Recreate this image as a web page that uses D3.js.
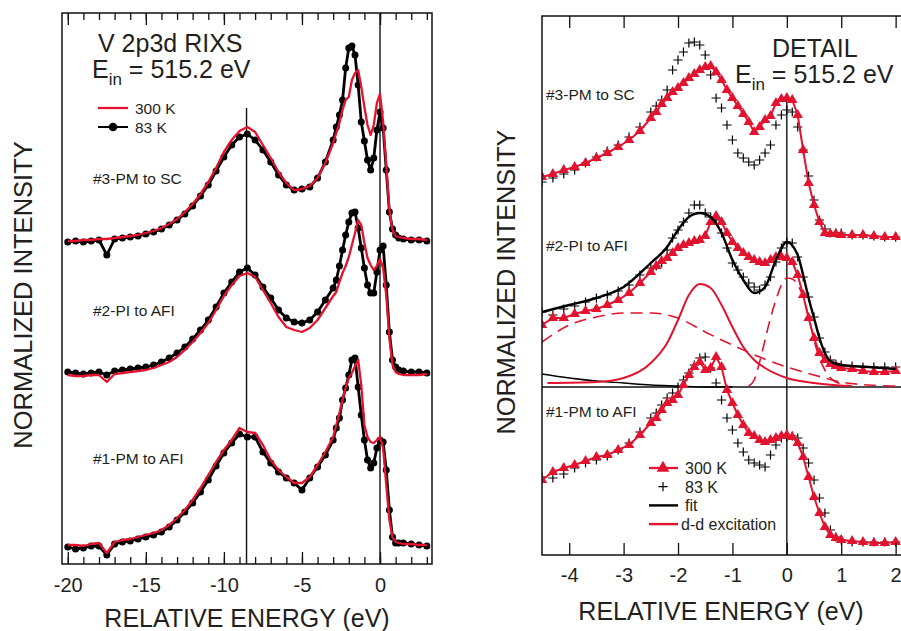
<!DOCTYPE html>
<html><head><meta charset="utf-8">
<script src="https://cdn.jsdelivr.net/npm/d3@7"></script>
<style>
body{margin:0;background:#fff;}
svg{display:block;}
text{font-family:"Liberation Sans",Arial,Helvetica,sans-serif;fill:#231f20;}
</style>
</head><body>
<svg id="c" width="901" height="631"></svg>
<script>
// ---------------- LEFT PANEL DATA (V 2p3d RIXS, wide range) ----------------
const energyL = [-20,-19.5,-19,-18.5,-18,-17.5,-17,-16.5,-16,-15.5,-15,-14.5,-14,-13.5,-13,-12.5,-12,-11.5,-11,-10.5,-10,-9.5,-9,-8.5,-8,-7.5,-7,-6.5,-6,-5.5,-5,-4.5,-4,-3.5,-3,
  -2.8,-2.6,-2.4,-2.2,-2,-1.8,-1.6,-1.4,-1.2,-1,-0.8,-0.6,-0.4,-0.2,0,0.2,0.4,0.6,0.8,1,1.2,1.5,2,2.5,3];
// stacked normalized intensity (arb. units, offsets included)
const L3_83K = [32.2,32.3,32.2,32.3,32.4,30.9,32.5,32.6,32.7,32.8,33.0,33.2,33.5,33.9,34.4,35.0,35.8,36.8,37.9,39.3,40.7,41.9,42.7,43.0,42.4,41.4,40.2,38.9,37.9,37.4,37.5,37.7,38.6,40.2,42.4,
  43.7,44.9,46.4,49.6,51.6,51.8,50.9,47.9,44.2,42.3,40.4,39.4,40.6,43.4,45.2,43.6,39.4,35.2,33.5,32.9,32.6,32.5,32.4,32.4,32.3];
const L3_300K = [32.3,32.3,32.4,32.4,32.5,32.5,32.6,32.7,32.8,32.9,33.1,33.3,33.6,34.0,34.5,35.2,36.0,37.0,38.2,39.6,41.2,42.4,43.3,43.7,43.2,41.9,40.6,39.2,38.1,37.4,37.5,37.8,38.6,40.1,42.1,
  43.1,44.1,45.4,46.4,46.7,48.4,49.1,49.4,47.7,45.7,43.9,42.9,43.9,46.1,47.0,44.2,39.9,35.4,33.4,32.8,32.7,32.6,32.5,32.5,32.4];
const L2_83K = [19.2,19.1,19.0,19.1,19.2,18.9,19.3,19.4,19.5,19.6,19.7,19.9,20.2,20.6,21.1,21.7,22.5,23.4,24.4,25.7,27.1,28.2,29.2,29.6,28.9,27.7,26.6,25.4,24.6,24.2,24.1,24.4,25.2,26.4,27.6,
  28.4,29.8,31.4,32.9,34.2,35.1,35.2,33.6,31.6,29.6,27.9,27.1,27.1,29.2,31.4,31.8,27.9,23.2,20.4,19.7,19.4,19.3,19.2,19.2,19.1];
const L2_300K = [18.9,18.8,18.8,18.9,18.9,18.2,19.0,19.1,19.2,19.3,19.4,19.6,19.9,20.2,20.7,21.4,22.2,23.1,24.1,25.4,26.8,27.9,28.8,29.1,28.7,27.4,26.1,24.7,23.7,23.4,23.2,23.6,24.4,25.6,26.8,
  27.2,28.2,29.1,29.8,30.7,31.9,33.1,34.4,33.9,32.1,30.6,29.9,29.4,29.8,30.5,29.6,26.9,22.6,19.9,19.2,19.0,18.9,18.9,18.9,19.0];
const L1_83K = [1.7,1.5,1.6,1.8,1.8,0.9,2.0,2.2,2.3,2.5,2.7,2.9,3.2,3.7,4.4,5.2,6.1,7.2,8.4,9.8,11.1,12.1,13.0,12.7,12.7,11.2,10.1,9.2,8.6,8.1,7.4,8.6,9.7,10.9,12.4,
  13.6,14.6,16.4,17.6,18.9,20.4,20.6,17.7,14.9,12.4,10.4,9.6,10.1,11.6,12.4,12.2,9.4,5.4,2.7,2.1,2.1,2.1,2.0,1.9,1.8];
const L1_300K = [1.9,1.9,1.8,2.0,2.1,1.1,2.2,2.4,2.5,2.7,2.9,3.1,3.4,3.9,4.6,5.4,6.4,7.6,8.9,10.2,11.4,12.4,13.6,13.2,13.1,11.9,10.4,9.4,8.7,8.1,8.1,8.7,9.9,11.2,12.7,
  13.9,15.1,16.4,17.6,18.6,19.1,19.8,20.4,17.9,13.9,12.7,12.2,12.1,12.4,12.7,11.6,7.9,4.4,2.7,2.2,2.1,2.0,2.0,1.9,1.9];
const labelsL = ["#3-PM to SC","#2-PI to AFI","#1-PM to AFI"];
const labelLevelL = [38.0, 24.8, 10.0];
const majorTicksL = [-20,-15,-10,-5,0];
const refLinesL = [{e:-8.55, top:45.6},{e:0, top:55.1}];

// ---------------- RIGHT PANEL DATA (DETAIL) ----------------
const energyR = [-4.5,-4.3,-4.1,-3.9,-3.7,-3.5,-3.3,-3.1,-2.9,-2.7,-2.5,
  -2.4,-2.3,-2.2,-2.1,-2.0,-1.9,-1.8,-1.7,-1.6,-1.5,-1.4,-1.3,-1.2,-1.1,-1.0,-0.9,-0.8,-0.7,-0.6,-0.5,-0.4,-0.3,-0.2,-0.1,0,0.1,0.2,0.3,0.4,0.5,0.6,0.7,0.8,0.9,1.0,
  1.2,1.4,1.6,1.8,2.0];
const R3_300K = [37.8,38.1,38.5,38.8,39.2,39.7,40.2,40.8,41.5,42.4,43.7,
  44.3,45.1,45.7,46.3,46.7,47.2,47.7,48.1,48.5,48.8,48.9,48.3,47.5,46.5,45.7,44.9,44.1,43.3,42.3,42.8,43.5,43.9,45.2,45.6,45.7,45.5,44.0,40.5,37.2,35.0,33.3,32.2,32.1,32.1,32.0,
  32.0,32.0,31.9,31.8,31.8];
const R3_83K = [37.3,37.7,38.1,38.5,39.2,39.8,40.4,41.0,41.8,42.8,44.3,
  44.9,45.5,46.5,48.5,49.5,50.3,51.2,51.3,51.0,50.0,48.0,45.7,44.7,43.0,41.5,40.2,39.7,39.3,39.0,39.5,40.2,41.0,43.0,44.0,44.5,44.3,42.8,40.5,37.9,35.5,33.5,32.6,32.2,32.2,32.2,
  32.0,32.0,31.9,31.8,31.8];
const R2_300K = [23.0,23.7,23.7,24.1,24.4,24.6,25.0,25.5,26.2,27.2,28.3,
  28.9,29.4,29.7,30.2,30.7,31.0,31.2,31.4,31.5,31.9,33.3,33.9,33.3,32.2,31.3,30.7,30.2,29.8,29.5,29.3,29.2,29.5,29.8,29.8,29.7,29.3,28.0,26.0,23.7,21.7,20.2,19.5,19.1,18.9,18.7,
  18.6,18.4,18.3,18.3,18.4];
const R2_83K = [24.3,24.0,24.6,24.9,25.3,25.7,26.0,26.4,27.0,28.0,28.7,
  28.9,29.2,30.5,31.7,32.5,33.3,34.2,35.0,35.0,34.2,33.8,33.5,32.2,30.7,29.2,28.5,27.8,27.2,26.8,26.5,27.0,27.8,29.3,30.7,31.3,31.2,29.8,27.8,25.8,23.8,21.7,20.3,19.5,19.1,19.0,
  18.9,18.8,18.8,18.8,18.8];
const R1_300K = [7.5,8.3,8.7,9.0,9.4,9.8,10.0,10.5,11.0,12.0,13.2,
  13.7,14.5,15.2,15.5,16.0,17.0,18.0,18.8,19.3,18.5,18.7,19.8,18.8,16.5,15.2,14.0,13.0,12.2,11.9,11.5,11.3,11.5,11.7,11.9,12.0,11.8,11.2,9.8,7.8,5.8,4.2,2.8,2.0,1.7,1.5,
  1.4,1.3,1.2,1.2,1.3];
const R1_83K = [7.8,7.7,8.1,8.7,9.2,9.5,9.9,10.5,11.2,12.3,13.7,
  14.2,15.0,15.7,16.2,16.8,17.5,18.2,19.0,19.7,19.8,18.7,17.2,15.5,13.7,12.5,11.2,10.3,9.5,9.2,9.0,8.8,10.0,11.0,11.7,11.8,11.9,11.7,10.7,9.2,7.5,5.7,4.2,2.5,1.8,1.5,
  1.3,1.3,1.3,1.3,1.3];
// fit of #2 (83 K) and its components
const fitE = [-4.5,-4,-3.5,-3,-2.5,-2.2,-2,-1.8,-1.6,-1.4,-1.2,-1,-0.8,-0.6,-0.4,-0.2,0,0.2,0.3,0.4,0.5,0.6,0.7,0.8,1,1.5,2];
const fitI = [24.3,25.0,25.7,26.8,29.2,30.8,32.5,33.8,34.2,33.8,32.2,29.5,27.5,26.2,26.8,29.5,31.3,30.0,28.0,25.7,23.7,21.7,20.2,19.4,19.0,18.8,18.6];
const ddE = [-4.4,-3.5,-3,-2.5,-2.2,-2,-1.8,-1.6,-1.4,-1.2,-1,-0.8,-0.6,-0.4,0,0.5,1.1];
const ddI = [17.2,17.3,17.7,19.2,21.2,23.5,26.0,27.1,26.7,25.0,22.8,20.8,19.5,18.7,17.7,17.2,16.9];
const broadE = [-4.5,-4,-3.5,-3,-2.5,-2,-1.5,-1,-0.5,0,0.5,1,1.5,2];
const broadI = [21.3,23.0,23.8,24.2,24.2,23.7,22.3,21.0,19.8,18.8,18.0,17.3,17.0,16.9];
const elasticE = [-0.7,-0.6,-0.5,-0.4,-0.3,-0.2,-0.1,0,0.1,0.2,0.3,0.4,0.5,0.6,0.7,0.9,1.2];
const elasticI = [16.9,17.5,19.3,21.5,23.7,25.5,27.0,27.7,27.6,27.0,25.8,23.8,21.5,19.7,18.5,17.3,16.9];
const tailE = [-4.5,-4,-3.5,-3,-2.5,-2,-1.5,-1];
const tailI = [18.1,17.7,17.4,17.2,17.0,16.9,16.8,16.8];
const baselineR = 16.8;
const labelsR = ["#3-PM to SC","#2-PI to AFI","#1-PM to AFI"];
const labelLevelR = [45.5, 30.4, 13.8];
const ticksR = [-4,-3,-2,-1,0,1,2];
const legendR = [
  {label:"300 K", kind:"tri"},
  {label:"83 K", kind:"cross"},
  {label:"fit", kind:"fit"},
  {label:"d-d excitation", kind:"dd"}
];

// ---------------- DRAWING ----------------
const RED = "#e2132f";
const INK = "#111";
const svg = d3.select("#c");
const fmt = d => String(d);

function check(a,b,n){ if(a.length!==b.length) console.error("length mismatch", n, a.length, b.length); }
[["L3a",L3_83K],["L3b",L3_300K],["L2a",L2_83K],["L2b",L2_300K],["L1a",L1_83K],["L1b",L1_300K]].forEach(([n,a])=>check(energyL,a,n));
[["R3a",R3_83K],["R3b",R3_300K],["R2a",R2_83K],["R2b",R2_300K],["R1a",R1_83K],["R1b",R1_300K]].forEach(([n,a])=>check(energyR,a,n));

// ===== LEFT =====
const xL = d3.scaleLinear().domain([-20.37, 3.33]).range([62, 432]);
const yL = d3.scaleLinear().domain([0, 55.1]).range([564, 13]);
const gL = svg.append("g");
svg.append("clipPath").attr("id","clipL").append("rect")
  .attr("x",xL.range()[0]).attr("y",yL.range()[1]).attr("width",xL.range()[1]-xL.range()[0]).attr("height",yL.range()[0]-yL.range()[1]);

refLinesL.forEach(r=>{
  gL.append("line").attr("x1",xL(r.e)).attr("x2",xL(r.e)).attr("y1",yL(r.top)).attr("y2",yL(0))
    .attr("stroke",INK).attr("stroke-width",1.4);
});

const lineL = d3.line().x(d=>xL(d[0])).y(d=>yL(d[1]));
const plotL = gL.append("g").attr("clip-path","url(#clipL)");
[[L1_83K,L1_300K],[L2_83K,L2_300K],[L3_83K,L3_300K]].forEach(([blk,red])=>{
  const pb = energyL.map((e,i)=>[e,blk[i]]);
  const pr = energyL.map((e,i)=>[e,red[i]]);
  plotL.append("path").attr("d",lineL(pb)).attr("fill","none").attr("stroke","#000").attr("stroke-width",2.8).attr("stroke-linejoin","round");
  plotL.selectAll(null).data(pb).enter().append("circle")
    .attr("cx",d=>xL(d[0])).attr("cy",d=>yL(d[1])).attr("r",3.5).attr("fill","#000");
  plotL.append("path").attr("d",lineL(pr)).attr("fill","none").attr("stroke",RED).attr("stroke-width",2.3).attr("stroke-linejoin","round");
});

gL.append("rect").attr("x",62).attr("y",13).attr("width",370).attr("height",551)
  .attr("fill","none").attr("stroke",INK).attr("stroke-width",1.5);
const minorL = d3.range(-20,4);
gL.append("g").attr("transform",`translate(0,${yL(0)})`)
  .call(d3.axisBottom(xL).tickValues(minorL).tickSize(-7).tickFormat(""))
  .call(g=>g.select(".domain").remove());
gL.append("g").attr("transform",`translate(0,${yL(0)})`)
  .call(d3.axisBottom(xL).tickValues(majorTicksL).tickSize(-12).tickPadding(14).tickFormat(fmt))
  .call(g=>g.select(".domain").remove())
  .call(g=>g.selectAll("text").style("font-size","20px").attr("fill","#231f20"));
gL.append("g").attr("transform",`translate(0,${yL.range()[1]})`)
  .call(d3.axisTop(xL).tickValues(minorL).tickSize(-7).tickFormat(""))
  .call(g=>g.select(".domain").remove());
gL.append("g").attr("transform",`translate(0,${yL.range()[1]})`)
  .call(d3.axisTop(xL).tickValues(majorTicksL).tickSize(-12).tickFormat(""))
  .call(g=>g.select(".domain").remove());
gL.selectAll(".tick line").attr("stroke",INK).attr("stroke-width",1.3);

gL.append("text").attr("x",98).attr("y",52).style("font-size","25px").text("V 2p3d RIXS");
const eL = gL.append("text").attr("x",92).attr("y",78).style("font-size","25px");
eL.append("tspan").text("E");
eL.append("tspan").attr("dy",7).style("font-size","17px").text("in");
eL.append("tspan").attr("dy",-7).text(" = 515.2 eV");

gL.append("line").attr("x1",98).attr("x2",128).attr("y1",108).attr("y2",108).attr("stroke",RED).attr("stroke-width",2.3);
gL.append("text").attr("x",135).attr("y",114).style("font-size","15.5px").text("300 K");
gL.append("line").attr("x1",98).attr("x2",128).attr("y1",127).attr("y2",127).attr("stroke","#000").attr("stroke-width",2);
gL.append("circle").attr("cx",113).attr("cy",127).attr("r",4.3).attr("fill","#000");
gL.append("text").attr("x",135).attr("y",133).style("font-size","15.5px").text("83 K");

labelsL.forEach((t,i)=>{
  gL.append("text").attr("x",93).attr("y",yL(labelLevelL[i])).style("font-size","15.5px").text(t);
});

gL.append("text").attr("x",247).attr("y",627).attr("text-anchor","middle").style("font-size","25px")
  .text("RELATIVE ENERGY (eV)");
gL.append("text").attr("transform","translate(32,295) rotate(-90)").attr("text-anchor","middle")
  .style("font-size","25.5px").text("NORMALIZED INTENSITY");

// ===== RIGHT =====
const xR = d3.scaleLinear().domain([-4.5, 2.15]).range([542, 903.8]);
const yR = d3.scaleLinear().domain([0, 53.9]).range([555, 16]);
const gR = svg.append("g");
svg.append("clipPath").attr("id","clipR").append("rect")
  .attr("x",542).attr("y",16).attr("width",362).attr("height",539);
const plotR = gR.append("g").attr("clip-path","url(#clipR)");

plotR.append("line").attr("x1",xR(0)).attr("x2",xR(0)).attr("y1",yR(45.5)).attr("y2",yR(0))
  .attr("stroke",INK).attr("stroke-width",1.4);
plotR.append("line").attr("x1",xR(-4.5)).attr("x2",xR(2.15)).attr("y1",yR(baselineR)).attr("y2",yR(baselineR))
  .attr("stroke",INK).attr("stroke-width",1.6);

const lineR = d3.line().x(d=>xR(d[0])).y(d=>yR(d[1]));
const smoothR = d3.line().x(d=>xR(d[0])).y(d=>yR(d[1])).curve(d3.curveMonotoneX);
const crossPath = "M-4.6,0H4.6M0,-4.6V4.6";
const triSym = d3.symbol(d3.symbolTriangle, 48);
const zip = (a,b)=>a.map((e,i)=>[e,b[i]]);

plotR.append("path").attr("d",smoothR(zip(tailE,tailI))).attr("fill","none").attr("stroke","#000").attr("stroke-width",1.4);
plotR.append("path").attr("d",smoothR(zip(broadE,broadI))).attr("fill","none").attr("stroke",RED).attr("stroke-width",1.6).attr("stroke-dasharray","12,7");
plotR.append("path").attr("d",smoothR(zip(elasticE,elasticI))).attr("fill","none").attr("stroke",RED).attr("stroke-width",1.6).attr("stroke-dasharray","12,7");
plotR.append("path").attr("d",smoothR(zip(ddE,ddI))).attr("fill","none").attr("stroke",RED).attr("stroke-width",2);

[[R1_83K,R1_300K],[R2_83K,R2_300K],[R3_83K,R3_300K]].forEach(([blk,red])=>{
  const pb = zip(energyR,blk), pr = zip(energyR,red);
  plotR.selectAll(null).data(pb).enter().append("path")
    .attr("transform",d=>`translate(${xR(d[0])},${yR(d[1])})`).attr("d",crossPath)
    .attr("stroke","#000").attr("stroke-width",1.2).attr("fill","none");
  plotR.append("path").attr("d",lineR(pr)).attr("fill","none").attr("stroke",RED).attr("stroke-width",2);
  plotR.selectAll(null).data(pr).enter().append("path")
    .attr("transform",d=>`translate(${xR(d[0])},${yR(d[1])})`).attr("d",triSym()).attr("fill",RED);
});
plotR.append("path").attr("d",smoothR(zip(fitE,fitI))).attr("fill","none").attr("stroke","#000").attr("stroke-width",2.4);

gR.append("path").attr("d",`M${xR(2.15)},16H542V555H${xR(2.15)}`).attr("fill","none").attr("stroke",INK).attr("stroke-width",1.5);
gR.append("g").attr("transform",`translate(0,${yR(0)})`)
  .call(d3.axisBottom(xR).tickValues(ticksR).tickSize(-12).tickPadding(13).tickFormat(fmt))
  .call(g=>g.select(".domain").remove())
  .call(g=>g.selectAll("text").style("font-size","20px").attr("fill","#231f20"));
gR.append("g").attr("transform",`translate(0,${yR.range()[1]})`)
  .call(d3.axisTop(xR).tickValues(ticksR).tickSize(-12).tickFormat(""))
  .call(g=>g.select(".domain").remove());
gR.selectAll(".tick line").attr("stroke",INK).attr("stroke-width",1.3);

gR.append("text").attr("x",772).attr("y",57).style("font-size","25px").text("DETAIL");
const eR = gR.append("text").attr("x",735).attr("y",83).style("font-size","25px");
eR.append("tspan").text("E");
eR.append("tspan").attr("dy",7).style("font-size","17px").text("in");
eR.append("tspan").attr("dy",-7).text(" = 515.2 eV");

labelsR.forEach((t,i)=>{
  gR.append("text").attr("x",546).attr("y",yR(labelLevelR[i])).style("font-size","15.5px").text(t);
});

legendR.forEach((d,i)=>{
  const y = 468 + i*18.7;
  const g = gR.append("g");
  if(d.kind==="tri"){
    g.append("line").attr("x1",649).attr("x2",678).attr("y1",y).attr("y2",y).attr("stroke",RED).attr("stroke-width",2.3);
    g.append("path").attr("transform",`translate(663,${y})`).attr("d",d3.symbol(d3.symbolTriangle,70)()).attr("fill",RED);
  } else if(d.kind==="cross"){
    g.append("path").attr("transform",`translate(663,${y})`).attr("d",crossPath).attr("stroke","#000").attr("stroke-width",1.2);
  } else {
    g.append("line").attr("x1",649).attr("x2",678).attr("y1",y).attr("y2",y)
      .attr("stroke",d.kind==="fit"?"#000":RED).attr("stroke-width",2.4);
  }
  g.append("text").attr("x",d.kind==="dd"?681:685).attr("y",y+6).style("font-size","16px").text(d.label);
});

gR.append("text").attr("x",721).attr("y",620).attr("text-anchor","middle").style("font-size","25px")
  .text("RELATIVE ENERGY (eV)");
gR.append("text").attr("transform","translate(515,282) rotate(-90)").attr("text-anchor","middle")
  .style("font-size","25.3px").text("NORMALIZED INTENSITY");
</script>
</body></html>
